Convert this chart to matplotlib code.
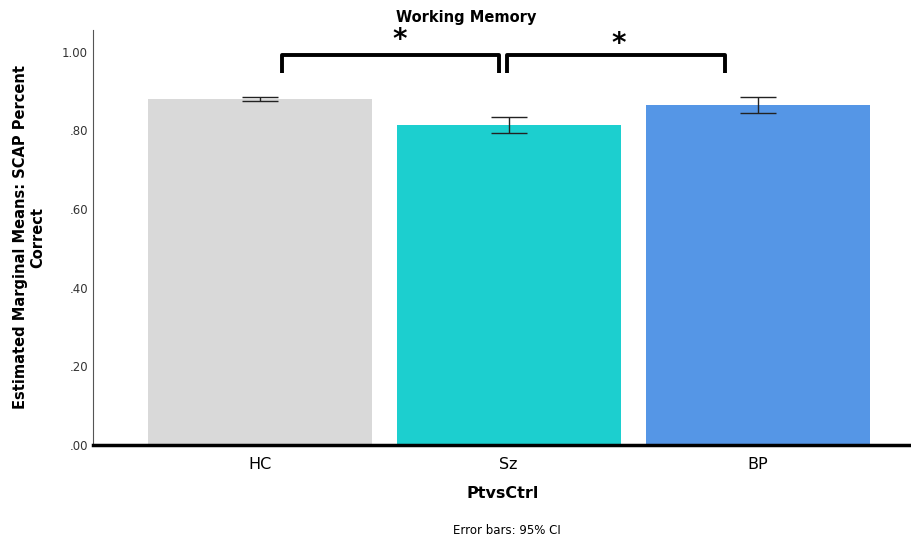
import matplotlib.pyplot as plt
import numpy as np

groups = ['HC', 'Sz', 'BP']
means = [0.880, 0.813, 0.865]
ci_low = [0.875, 0.794, 0.845]
ci_high = [0.885, 0.834, 0.885]
colors = ['#d9d9d9', '#1ccfcf', '#5596e6']
yticks = [0.0, 0.2, 0.4, 0.6, 0.8, 1.0]
ytick_labels = ['.00', '.20', '.40', '.60', '.80', '1.00']

fig = plt.figure(figsize=(9.12, 5.42), dpi=100)
ax = fig.add_axes([0.102, 0.179, 0.898, 0.766])

x = np.arange(len(groups))
m = np.array(means)
yerr = [m - np.array(ci_low), np.array(ci_high) - m]
ax.bar(x, means, width=0.9, color=colors, zorder=2)
ax.errorbar(x, means, yerr=yerr, fmt='none', ecolor='#222222', elinewidth=1,
            capsize=13, capthick=1, zorder=3)

ax.set_xlim(-0.67, 2.62)
ax.set_ylim(0, 1.056)
ax.set_yticks(yticks)
ax.set_yticklabels(ytick_labels, fontsize=8.5, color='#333333')
ax.set_xticks(x)
ax.set_xticklabels(groups, fontsize=11.5)
ax.tick_params(axis='both', length=0)
ax.tick_params(axis='x', pad=9)

for s in ['top', 'right']:
    ax.spines[s].set_visible(False)
ax.spines['left'].set_color('#555555')
ax.spines['left'].set_linewidth(0.8)
ax.spines['bottom'].set_color('black')
ax.spines['bottom'].set_linewidth(2.5)

# significance brackets
def bracket(x0, x1, ytop, ybot):
    ax.plot([x0, x0, x1, x1], [ybot, ytop, ytop, ybot], color='black',
            lw=2.8, solid_joinstyle='round', solid_capstyle='butt', clip_on=False)

bracket(0.09, 0.96, 0.992, 0.947)
bracket(0.995, 1.87, 0.992, 0.947)
ax.text(0.56, 1.03, '*', fontsize=20, fontweight='bold', ha='center', va='center')
ax.text(1.44, 1.02, '*', fontsize=20, fontweight='bold', ha='center', va='center')

fig.text(0.511, 0.968, 'Working Memory', fontsize=10.5, fontweight='bold', ha='center', va='center')
ax.set_ylabel('Estimated Marginal Means: SCAP Percent\nCorrect', fontsize=10.5,
              fontweight='bold', labelpad=12)
ax.set_xlabel('PtvsCtrl', fontsize=11.5, fontweight='bold', labelpad=10)
fig.text(0.556, 0.022, 'Error bars: 95% CI', fontsize=8.5, ha='center', va='center')

plt.savefig('out.png', dpi=100)
